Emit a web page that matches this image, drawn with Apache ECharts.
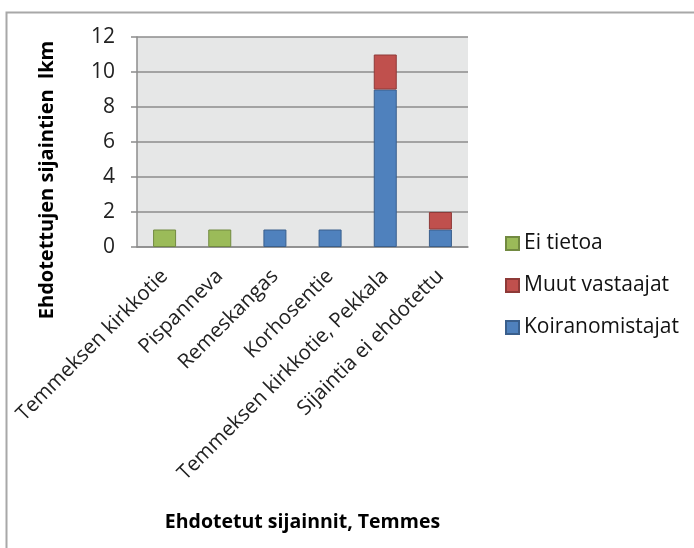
<!DOCTYPE html>
<html>
<head>
<meta charset="utf-8">
<script src="https://cdn.jsdelivr.net/npm/echarts@6/dist/echarts.min.js"></script>
<style>
  html, body { margin: 0; padding: 0; background: #fff; }
  #chart { width: 694px; height: 548px; }
</style>
</head>
<body>
<div id="chart"></div>
<script>
// sijainnit
var categories = ['Temmeksen kirkkotie', 'Pispanneva', 'Remeskangas', 'Korhosentie', 'Temmeksen kirkkotie, Pekkala', 'Sijaintia ei ehdotettu'];
var koiranomistajat = [0, 0, 1, 1, 9, 1];
var muutVastaajat = [0, 0, 0, 0, 2, 1];
var eiTietoa = [1, 1, 0, 0, 0, 0];
var yTicks = [0, 2, 4, 6, 8, 10, 12];

var font = 'Open Sans';

function nollaPois(arr) {
    // tyhjat palkit pois, ettei reunaviiva nay
    return arr.map(function (v) { return v === 0 ? null : v; });
}

var chart = echarts.init(document.getElementById('chart'));

chart.setOption({
    animation: false,
    graphic: [
        {
            type: 'rect',
            shape: { x: 6.5, y: 12.5, width: 720, height: 600 },
            style: { fill: 'none', stroke: '#a8a8a8', lineWidth: 2 },
            silent: true
        },
        {
            type: 'text',
            x: 47, y: 180,
            rotation: Math.PI / 2,
            style: {
                text: 'Ehdotettujen sijaintien  lkm',
                font: 'bold 20px "' + font + '"',
                fill: '#000',
                align: 'center',
                verticalAlign: 'middle'
            }
        }
    ],
    grid: { left: 137, top: 37, width: 331, height: 210 },
    legend: {
        orient: 'vertical',
        left: 505,
        top: 233,
        padding: 0,
        itemWidth: 13,
        itemHeight: 13,
        itemGap: 21,
        icon: 'rect',
        data: ['Ei tietoa', 'Muut vastaajat', 'Koiranomistajat'],
        textStyle: { fontFamily: font, fontSize: 21, color: '#111', padding: [0, 0, 0, 0] }
    },
    xAxis: {
        type: 'category',
        data: categories,
        name: 'Ehdotetut sijainnit, Temmes',
        nameLocation: 'middle',
        nameGap: 265,
        nameTextStyle: { fontFamily: font, fontSize: 19.5, fontWeight: 'bold', color: '#000' },
        axisLine: { lineStyle: { color: '#8c8c8c', width: 1.5 } },
        axisTick: { alignWithLabel: false, length: 6, lineStyle: { color: '#8c8c8c', width: 1.5 } },
        axisLabel: { rotate: 45, interval: 0, fontFamily: font, fontSize: 20.5, color: '#222', margin: 26 }
    },
    yAxis: {
        type: 'value',
        min: 0,
        max: yTicks[yTicks.length - 1],
        interval: 2,
        axisLine: { show: true, lineStyle: { color: '#8c8c8c', width: 1.5 } },
        axisTick: { show: true, length: 6, lineStyle: { color: '#8c8c8c', width: 1.5 } },
        axisLabel: { fontFamily: font, fontSize: 21, color: '#222', margin: 22 },
        splitLine: { lineStyle: { color: '#8c8c8c', width: 1.5 } },
        splitArea: { show: true, areaStyle: { color: ['#e6e7e7', '#e6e7e7'] } }
    },
    series: [
        {
            name: 'Koiranomistajat',
            type: 'bar',
            stack: 'yht',
            barWidth: 23,
            data: nollaPois(koiranomistajat),
            itemStyle: { color: '#4f81bd', borderColor: '#3a5f8c', borderWidth: 1 }
        },
        {
            name: 'Muut vastaajat',
            type: 'bar',
            stack: 'yht',
            data: nollaPois(muutVastaajat),
            itemStyle: { color: '#c0504d', borderColor: '#8e3a38', borderWidth: 1 }
        },
        {
            name: 'Ei tietoa',
            type: 'bar',
            stack: 'yht',
            data: nollaPois(eiTietoa),
            itemStyle: { color: '#9bbb59', borderColor: '#728a41', borderWidth: 1 }
        }
    ]
});
</script>
</body>
</html>
